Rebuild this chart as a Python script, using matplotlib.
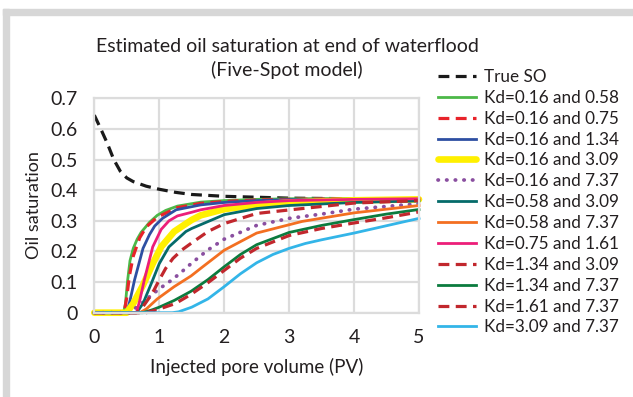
import matplotlib
matplotlib.use("Agg")
import matplotlib.pyplot as plt
from matplotlib.patches import Rectangle

plt.rcParams['font.family'] = ['Lato', 'DejaVu Sans']

# ---- data ----
true_x = [0, 0.1, 0.2, 0.3, 0.4, 0.5, 0.6, 0.8, 1.0, 1.25, 1.5, 2.0, 2.5, 3.0, 4.0, 5.0]
true_y = [0.645, 0.60, 0.553, 0.50, 0.462, 0.44, 0.428, 0.413, 0.403, 0.393, 0.386, 0.38, 0.377, 0.374, 0.372, 0.371]

k1_x = [0, 0.45, 0.48, 0.51, 0.55, 0.6, 0.66, 0.72, 0.85, 0.97, 1.1, 1.28, 1.64, 2.0, 2.5, 3.0, 4.0, 5.0]
k1_y = [0, 0, 0.03, 0.1, 0.17, 0.21, 0.24, 0.262, 0.295, 0.318, 0.334, 0.348, 0.361, 0.366, 0.37, 0.372, 0.373, 0.373]

k2_x = [0, 0.46, 0.5, 0.54, 0.6, 0.7, 0.8, 0.97, 1.28, 1.64, 2.0, 2.5, 3.0, 4.0, 5.0]
k2_y = [0, 0, 0.05, 0.12, 0.185, 0.245, 0.28, 0.312, 0.343, 0.357, 0.363, 0.368, 0.37, 0.372, 0.372]

k3_x = [0, 0.5, 0.55, 0.62, 0.75, 0.85, 0.93, 1.05, 1.26, 1.64, 2.0, 2.5, 3.0, 4.0, 5.0]
k3_y = [0, 0, 0.04, 0.107, 0.21, 0.255, 0.283, 0.308, 0.336, 0.352, 0.36, 0.366, 0.369, 0.371, 0.372]

k4_x = [0, 0.5, 0.6, 0.75, 0.9, 1.03, 1.23, 1.5, 1.64, 2.0, 2.5, 3.0, 4.0, 5.0]
k4_y = [0, 0, 0.03, 0.09, 0.16, 0.215, 0.265, 0.303, 0.318, 0.338, 0.352, 0.36, 0.367, 0.37]

k5_x = [0, 0.55, 0.6, 0.7, 0.85, 1.0, 1.15, 1.3, 1.5, 1.75, 2.0, 2.5, 3.0, 3.5, 4.0, 5.0]
k5_y = [0, 0, 0.01, 0.025, 0.052, 0.078, 0.1, 0.125, 0.162, 0.205, 0.24, 0.285, 0.308, 0.322, 0.338, 0.356]

k6_x = [0, 0.65, 0.75, 0.9, 1.0, 1.15, 1.41, 1.5, 2.0, 2.5, 3.0, 4.0, 5.0]
k6_y = [0, 0, 0.03, 0.107, 0.16, 0.215, 0.265, 0.275, 0.32, 0.34, 0.35, 0.36, 0.365]

k7_x = [0, 0.7, 0.8, 0.97, 1.23, 1.49, 1.64, 2.0, 2.5, 3.2, 4.0, 5.0]
k7_y = [0, 0, 0.012, 0.045, 0.085, 0.12, 0.145, 0.204, 0.26, 0.298, 0.326, 0.35]

k8_x = [0, 0.65, 0.7, 0.77, 0.9, 1.03, 1.15, 1.28, 1.5, 1.64, 2.0, 2.5, 3.0, 4.0, 5.0]
k8_y = [0, 0, 0.04, 0.107, 0.215, 0.272, 0.3, 0.316, 0.328, 0.336, 0.35, 0.36, 0.366, 0.37, 0.372]

k9_x = [0, 0.65, 0.75, 0.85, 0.92, 1.0, 1.1, 1.21, 1.35, 1.5, 1.75, 2.0, 2.5, 3.2, 4.0, 5.0]
k9_y = [0, 0, 0.02, 0.05, 0.074, 0.107, 0.145, 0.177, 0.205, 0.228, 0.265, 0.291, 0.324, 0.34, 0.358, 0.366]

k10_x = [0, 0.75, 0.9, 1.0, 1.23, 1.49, 1.75, 2.0, 2.25, 2.5, 3.0, 3.5, 4.0, 4.5, 5.0]
k10_y = [0, 0, 0.01, 0.018, 0.04, 0.07, 0.108, 0.15, 0.19, 0.222, 0.262, 0.285, 0.304, 0.322, 0.337]

k11_x = [0, 0.8, 1.0, 1.25, 1.49, 1.75, 2.0, 2.25, 2.5, 3.0, 3.5, 4.0, 4.5, 5.0]
k11_y = [0, 0, 0.012, 0.03, 0.06, 0.098, 0.138, 0.178, 0.21, 0.252, 0.275, 0.293, 0.31, 0.329]

k12_x = [0, 1.2, 1.3, 1.5, 1.75, 2.0, 2.25, 2.5, 2.75, 3.0, 3.25, 3.5, 4.0, 4.5, 5.0]
k12_y = [0, 0, 0.003, 0.018, 0.045, 0.085, 0.127, 0.163, 0.19, 0.21, 0.226, 0.238, 0.26, 0.284, 0.308]

labels = ["True SO", "Kd=0.16 and 0.58", "Kd=0.16 and 0.75", "Kd=0.16 and 1.34",
          "Kd=0.16 and 3.09", "Kd=0.16 and 7.37", "Kd=0.58 and 3.09", "Kd=0.58 and 7.37",
          "Kd=0.75 and 1.61", "Kd=1.34 and 3.09", "Kd=1.34 and 7.37", "Kd=1.61 and 7.37",
          "Kd=3.09 and 7.37"]
xticks = [0, 1, 2, 3, 4, 5]
yticks = [0, 0.1, 0.2, 0.3, 0.4, 0.5, 0.6, 0.7]
ytick_labels = ["0", "0.1", "0.2", "0.3", "0.4", "0.5", "0.6", "0.7"]

series = [(true_x, true_y), (k1_x, k1_y), (k2_x, k2_y), (k3_x, k3_y), (k4_x, k4_y),
          (k5_x, k5_y), (k6_x, k6_y), (k7_x, k7_y), (k8_x, k8_y), (k9_x, k9_y),
          (k10_x, k10_y), (k11_x, k11_y), (k12_x, k12_y)]

styles = [
    dict(color='#1a1a1a', lw=2.3, ls=(0, (3.4, 2.0))),
    dict(color='#4cb848', lw=2.0, ls='-'),
    dict(color='#e8232a', lw=2.3, ls=(0, (3.4, 2.0))),
    dict(color='#2e4fa2', lw=2.0, ls='-'),
    dict(color='#fff000', lw=4.8, ls='-', solid_capstyle='round'),
    dict(color='#8a4fa0', lw=2.7, ls=(0, (0.1, 2.2)), dash_capstyle='round'),
    dict(color='#056b6a', lw=2.0, ls='-'),
    dict(color='#f36f21', lw=2.0, ls='-'),
    dict(color='#ec1e79', lw=2.0, ls='-'),
    dict(color='#c1272d', lw=2.3, ls=(0, (3.4, 2.0))),
    dict(color='#0b7b3e', lw=2.0, ls='-'),
    dict(color='#c1272d', lw=2.3, ls=(0, (3.4, 2.0))),
    dict(color='#33b5e8', lw=2.0, ls='-'),
]

W, H = 633, 397
fig = plt.figure(figsize=(W / 100, H / 100), dpi=100)
fig.patch.set_facecolor('white')

# outer grey frame (top and left bands)
fig.patches.append(Rectangle((3 / W, 0), 6 / W, 1 - 9 / H, transform=fig.transFigure,
                             color='#d7d7d7', zorder=0))
fig.patches.append(Rectangle((3 / W, 1 - 15 / H), 1 - 3 / W, 6 / H, transform=fig.transFigure,
                             color='#d7d7d7', zorder=0))

ax = fig.add_axes([94.3 / W, (H - 312.7) / H, (419 - 94.3) / W, (312.7 - 98.3) / H])
ax.set_xlim(0, 5)
ax.set_ylim(0, 0.7)
ax.set_xticks(xticks)
ax.set_yticks(yticks)
ax.set_yticklabels(ytick_labels)
ax.grid(True, color='#dcdcdc', lw=1.6)
ax.set_axisbelow(True)
for s in ax.spines.values():
    s.set_color('#dcdcdc')
    s.set_linewidth(1.6)
ax.tick_params(length=0, labelsize=14, colors='#231f20')
ax.tick_params(axis='y', pad=12)
ax.tick_params(axis='x', pad=12)

handles = []
for (xs, ys), st, lab in zip(series, styles, labels):
    h, = ax.plot(xs, ys, label=lab, clip_on=False, **st)
    handles.append(h)

ax.set_xlabel("Injected pore volume (PV)", fontsize=13.5, color='#231f20', labelpad=8)
ax.set_ylabel("Oil saturation", fontsize=13, color='#231f20', labelpad=6)

fig.text(287 / W, 1 - 46 / H, "Estimated oil saturation at end of waterflood",
         ha='center', va='center', fontsize=14, color='#231f20')
fig.text(287 / W, 1 - 70 / H, "(Five-Spot model)",
         ha='center', va='center', fontsize=14, color='#231f20')

leg = fig.legend(handles=handles, loc='upper left', bbox_to_anchor=(438 / W, 1 - 69 / H),
                 frameon=False, fontsize=12.3, handlelength=2.2, handletextpad=0.5,
                 labelspacing=0.285, borderaxespad=0, borderpad=0)
for t in leg.get_texts():
    t.set_color('#231f20')

fig.savefig("out.png", dpi=100)
